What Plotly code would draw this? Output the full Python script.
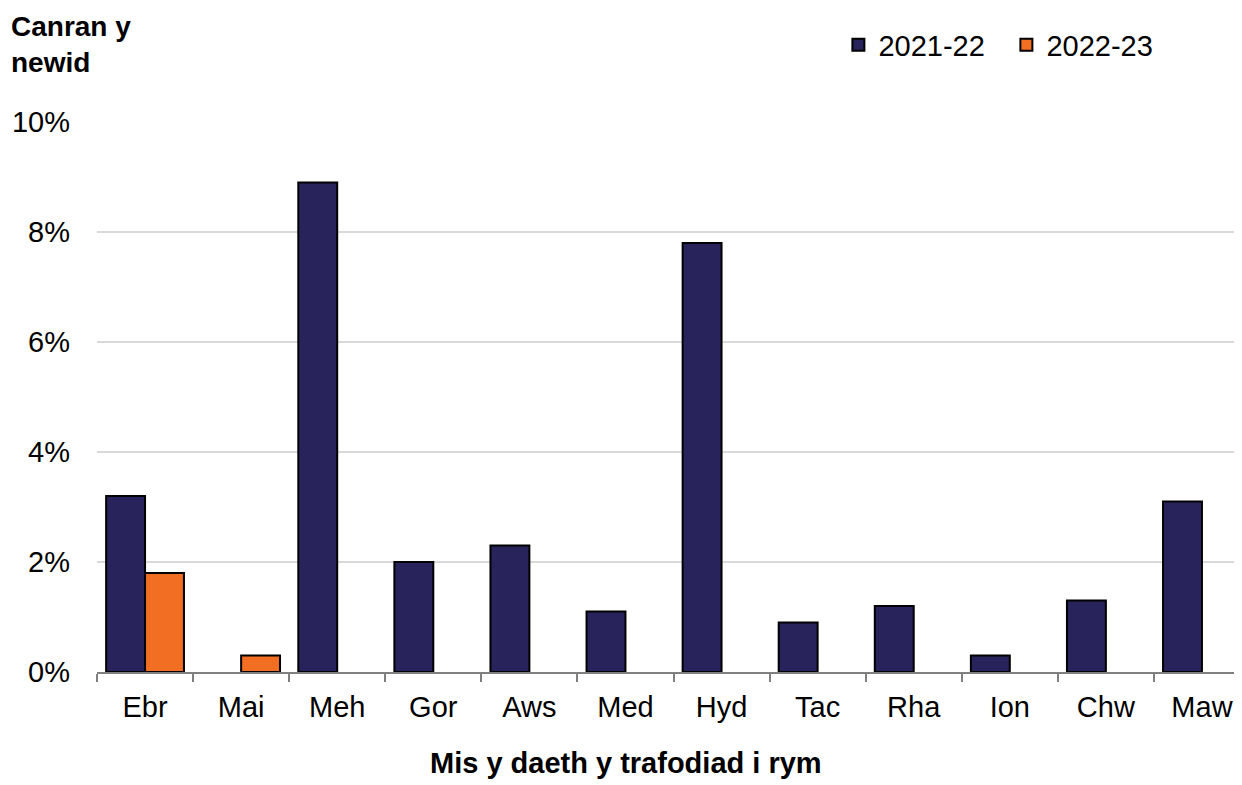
import plotly.graph_objects as go

months = ["Ebr", "Mai", "Meh", "Gor", "Aws", "Med", "Hyd", "Tac", "Rha", "Ion", "Chw", "Maw"]
s2021_22 = [3.2, None, 8.9, 2.0, 2.3, 1.1, 7.8, 0.9, 1.2, 0.3, 1.3, 3.1]
s2022_23 = [1.8, 0.3, None, None, None, None, None, None, None, None, None, None]
y_ticks = [0, 2, 4, 6, 8, 10]
y_tick_labels = ["0%", "2%", "4%", "6%", "8%", "10%"]

FONT = "Liberation Sans, Arial, sans-serif"

fig = go.Figure()
fig.add_trace(go.Bar(x=months, y=s2021_22, name="2021-22",
                     marker=dict(color="#29235C", line=dict(color="#000000", width=2))))
fig.add_trace(go.Bar(x=months, y=s2022_23, name="2022-23",
                     marker=dict(color="#F26E22", line=dict(color="#000000", width=2))))

fig.update_layout(
    width=1250, height=785,
    margin=dict(l=89, r=8, t=114, b=121, autoexpand=False),
    paper_bgcolor="white", plot_bgcolor="white",
    barmode="group", bargap=0.19, bargroupgap=0,
    font=dict(family=FONT, size=29, color="#000000"),
    showlegend=True,
    legend=dict(orientation="h", x=0.643, y=1.14, xanchor="left", yanchor="middle",
                font=dict(size=29), itemwidth=30, entrywidth=123, bgcolor="rgba(0,0,0,0)"),
    xaxis=dict(range=[-0.5, 11.5], showgrid=False, showline=True, linecolor="#808080",
               linewidth=1.5, ticks="outside", tickson="boundaries", ticklen=8,
               tickcolor="#808080", tickwidth=1.5, tickfont=dict(size=29),
               ticklabelstandoff=8, automargin=False),
    yaxis=dict(range=[0, 10], tickvals=y_ticks, ticktext=y_tick_labels, showgrid=True,
               gridcolor="#D9D9D9", gridwidth=2, zeroline=False, showline=False,
               ticks="", tickfont=dict(size=29), ticklabelstandoff=26, automargin=False),
    annotations=[
        dict(text="<b>Canran y<br>newid</b>", xref="paper", yref="paper",
             x=-0.076, y=1.206, xanchor="left", yanchor="top", showarrow=False,
             align="left", font=dict(size=28)),
        dict(text="<b>Mis y daeth y trafodiad i rym</b>", xref="paper", yref="paper",
             x=0.4585, y=-0.1655, xanchor="center", yanchor="middle", showarrow=False,
             font=dict(size=29)),
    ],
)

fig.write_html("out.html")
